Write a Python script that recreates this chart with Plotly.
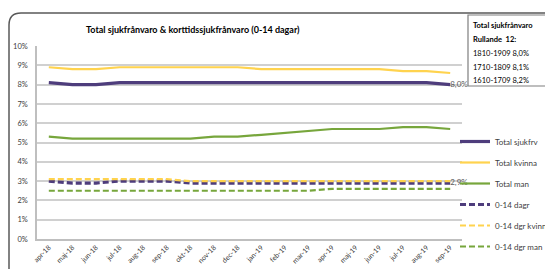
import plotly.graph_objects as go

months = ["apr-18","maj-18","jun-18","jul-18","aug-18","sep-18","okt-18","nov-18","dec-18",
          "jan-19","feb-19","mar-19","apr-19","maj-19","jun-19","jul-19","aug-19","sep-19"]

total_sjukfrv = [8.1,8.0,8.0,8.1,8.1,8.1,8.1,8.1,8.1,8.1,8.1,8.1,8.1,8.1,8.1,8.1,8.1,8.0]
total_kvinna  = [8.9,8.8,8.8,8.9,8.9,8.9,8.9,8.9,8.9,8.8,8.8,8.8,8.8,8.8,8.8,8.7,8.7,8.6]
total_man     = [5.3,5.2,5.2,5.2,5.2,5.2,5.2,5.3,5.3,5.4,5.5,5.6,5.7,5.7,5.7,5.8,5.8,5.7]
dagr_0_14     = [3.0,2.9,2.9,3.0,3.0,3.0,2.9,2.9,2.9,2.9,2.9,2.9,2.9,2.9,2.9,2.9,2.9,2.9]
dgr_kvinna    = [3.1,3.1,3.1,3.1,3.1,3.1,3.0,3.0,3.0,3.0,3.0,3.0,3.0,3.0,3.0,3.0,3.0,3.0]
dgr_man       = [2.5,2.5,2.5,2.5,2.5,2.5,2.5,2.5,2.5,2.5,2.5,2.5,2.6,2.6,2.6,2.6,2.6,2.6]

y_ticks = [0,1,2,3,4,5,6,7,8,9,10]
y_tick_labels = [f"{v}%" for v in y_ticks]

box_lines = ["<b>Total sjukfrånvaro</b>", "<b>Rullande  12:</b>",
             "1810-1909 8,0%", "1710-1809 8,1%", "1610-1709 8,2%"]

PURPLE = "#4E3D7C"
YELLOW = "#FFD34E"
GREEN = "#77A63C"
FONT = "Lato"

W, H = 545, 269
L, R, T, B = 37, 462, 46, 239   # plot area in window pixels

def px(x):
    return (x - L) / (R - L)

def py(y):
    return (B - y) / (B - T)

def last_label(vals):
    return [""] * (len(vals) - 1) + [f"{vals[-1]:.1f}%".replace(".", ",")]

fig = go.Figure()
series = [
    ("Total sjukfrv", total_sjukfrv, PURPLE, 3.2, "solid", True),
    ("Total kvinna", total_kvinna, YELLOW, 2.2, "solid", False),
    ("Total man", total_man, GREEN, 2.2, "solid", False),
    ("0-14 dagr", dagr_0_14, PURPLE, 3.2, "6px,3px", True),
    ("0-14 dgr kvinna", dgr_kvinna, YELLOW, 2.2, "6px,3px", False),
    ("0-14 dgr man", dgr_man, GREEN, 2.2, "6px,3px", False),
]
for i, (name, vals, col, w, dash, lab) in enumerate(series):
    fig.add_trace(go.Scatter(
        x=months, y=vals, name=name, legendgroup=f"g{i}",
        mode="lines+text" if lab else "lines",
        text=last_label(vals) if lab else None,
        textposition="middle right",
        textfont=dict(size=8, color="#595959", family=FONT),
        line=dict(color=col, width=w, dash=dash),
        cliponaxis=False, hoverinfo="skip"))

# chart border (rounded top-left corner)
x1, yt = px(9), py(13)
r = 12
xr, yb = px(560), py(280)
path = (f"M {x1},{yb} L {x1},{py(13 + r)} Q {x1},{yt} {px(9 + r)},{yt} L {xr},{yt}")
shapes = [dict(type="path", xref="paper", yref="paper", path=path,
               line=dict(color="#595959", width=1.5)),
          dict(type="rect", xref="paper", yref="paper",
               x0=px(468), x1=px(560), y0=py(86), y1=py(15),
               line=dict(color="#7F7F7F", width=1.2), fillcolor="white")]

annotations = [dict(text="<b>Total sjukfrånvaro & korttidssjukfrånvaro (0-14 dagar)</b>",
                    xref="paper", yref="paper", x=px(193), y=py(30),
                    xanchor="center", yanchor="middle", showarrow=False,
                    font=dict(size=9, color="#000000", family=FONT))]
line_y = [25, 39, 53, 67, 80]
for t, yy in zip(box_lines, line_y):
    annotations.append(dict(text=t, xref="paper", yref="paper", x=px(471), y=py(yy),
                            xanchor="left", yanchor="middle", showarrow=False,
                            font=dict(size=7.5, color="#000000", family=FONT)))

fig.update_layout(
    width=W, height=H, autosize=False,
    margin=dict(l=L, r=W - R, t=T, b=H - B, pad=0, autoexpand=False),
    paper_bgcolor="white", plot_bgcolor="white",
    font=dict(family=FONT, size=8, color="#404040"),
    showlegend=True,
    legend=dict(x=px(455), y=py(127), xanchor="left", yanchor="top",
                traceorder="grouped", tracegroupgap=2,
                font=dict(size=8, color="#404040", family=FONT),
                itemwidth=30, bgcolor="rgba(0,0,0,0)"),
    shapes=shapes, annotations=annotations,
    xaxis=dict(type="category", range=[-0.5, 17.5], tickangle=-45, automargin=False,
               showgrid=False, showline=True, linecolor="#BFBFBF", linewidth=1.5,
               ticks="", tickfont=dict(size=7, color="#404040"), fixedrange=True),
    yaxis=dict(range=[0, 10], tickvals=y_ticks, ticktext=y_tick_labels, automargin=False,
               showgrid=True, gridcolor="#D0D0D0", gridwidth=1.6,
               showline=True, linecolor="#BFBFBF", linewidth=1.5,
               zeroline=False, ticks="", ticklabelstandoff=6,
               tickfont=dict(size=7.5, color="#404040"), fixedrange=True),
)

fig.write_html("out.html", config={"displayModeBar": False, "responsive": False},
               post_script="document.body.style.margin='0';document.body.style.overflow='hidden';")
